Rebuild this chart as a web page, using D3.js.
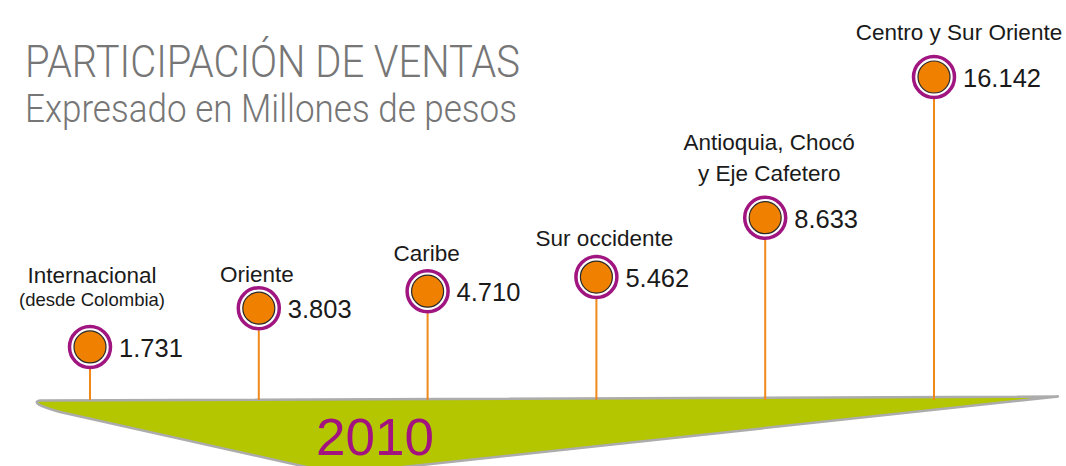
<!DOCTYPE html>
<html>
<head>
<meta charset="utf-8">
<script src="https://cdn.jsdelivr.net/npm/d3@7"></script>
<style>
  body { margin: 0; background: #fff; }
  svg { display: block; }
</style>
</head>
<body>
<svg width="1066" height="466"></svg>
<script>
// datos del grafico
const regiones = ["Internacional", "Oriente", "Caribe", "Sur occidente", "Antioquia, Chocó y Eje Cafetero", "Centro y Sur Oriente"];
const ventas = [1731, 3803, 4710, 5462, 8633, 16142];
const etiquetas = [["Internacional", "(desde Colombia)"], ["Oriente"], ["Caribe"], ["Sur occidente"], ["Antioquia, Chocó", "y Eje Cafetero"], ["Centro y Sur Oriente"]];
const anio = "2010";
const titulo = "PARTICIPACIÓN DE VENTAS";
const subtitulo = "Expresado en Millones de pesos";

// ajustes de la etiqueta de cada region: [dx, baseline de la ultima linea respecto al circulo]
const ajusteEtiqueta = [[2, -41], [-2, -26], [-1, -30], [8, -31], [4, -37], [25, -37]];

const svg = d3.select("svg");
const baseY = 400; // borde superior de la franja verde

const fmt = d3.formatLocale({decimal: ",", thousands: ".", grouping: [3], currency: ["$", ""]}).format(",");

const x = d3.scalePoint().domain(regiones).range([90, 934]);
const y = d3.scaleLinear().domain([0, d3.max(ventas)]).range([379.4, 77]);

// titulo
svg.append("text")
  .attr("x", 25).attr("y", 77)
  .attr("textLength", 495).attr("lengthAdjust", "spacingAndGlyphs")
  .style("font-family", "Roboto, 'Liberation Sans', sans-serif")
  .style("font-weight", 300)
  .style("font-size", "45px")
  .attr("fill", "#767676")
  .text(titulo);

svg.append("text")
  .attr("x", 25).attr("y", 122)
  .attr("textLength", 492).attr("lengthAdjust", "spacingAndGlyphs")
  .style("font-family", "Roboto, 'Liberation Sans', sans-serif")
  .style("font-weight", 300)
  .style("font-size", "38px")
  .attr("fill", "#767676")
  .text(subtitulo);

// franja verde (linea de tiempo)
svg.append("path")
  .attr("d", "M40,400.5 L1058,396.5 L338,474 L60,412 Q28,403 40,400.5 Z")
  .attr("fill", "#b3c600")
  .attr("stroke", "#acacac")
  .attr("stroke-width", 2.5)
  .attr("stroke-linejoin", "round");

svg.append("text")
  .attr("x", 316).attr("y", 455)
  .attr("textLength", 118).attr("lengthAdjust", "spacingAndGlyphs")
  .style("font-family", "'Liberation Sans', sans-serif")
  .style("font-size", "52px")
  .attr("fill", "#a3137f")
  .text(anio);

const datos = regiones.map((r, i) => ({region: r, valor: ventas[i], lineas: etiquetas[i], aj: ajusteEtiqueta[i]}));

const g = svg.append("g").selectAll("g")
  .data(datos)
  .join("g")
  .attr("transform", d => `translate(${x(d.region)},${y(d.valor)})`);

// palitos
g.append("line")
  .attr("x1", 0).attr("x2", 0)
  .attr("y1", 22)
  .attr("y2", d => baseY - y(d.valor))
  .attr("stroke", "#f0891a")
  .attr("stroke-width", 2);

// circulos
g.append("circle")
  .attr("r", 20.5)
  .attr("fill", "#fff")
  .attr("stroke", "#a0157f")
  .attr("stroke-width", 3.5);

g.append("circle")
  .attr("r", 16)
  .attr("fill", "#ef8000")
  .attr("stroke", "#2a2a2a")
  .attr("stroke-width", 1.2);

// valores
g.append("text")
  .attr("x", 29).attr("y", 10)
  .style("font-family", "'Liberation Sans', sans-serif")
  .style("font-size", "25.5px")
  .attr("fill", "#1a1a1a")
  .text(d => fmt(d.valor));

// nombres de region
g.each(function(d) {
  const n = d.lineas.length;
  const t = d3.select(this).append("text")
    .attr("text-anchor", "middle")
    .style("font-family", "'Liberation Sans', sans-serif")
    .attr("fill", "#1a1a1a");
  d.lineas.forEach((l, j) => {
    const chica = l.startsWith("(");
    const paso = d.lineas.some(s => s.startsWith("(")) ? 23 : 31;
    t.append("tspan")
      .attr("x", d.aj[0])
      .attr("y", d.aj[1] - (n - 1 - j) * paso)
      .style("font-size", chica ? "18.5px" : "22.5px")
      .text(l);
  });
});
</script>
</body>
</html>
